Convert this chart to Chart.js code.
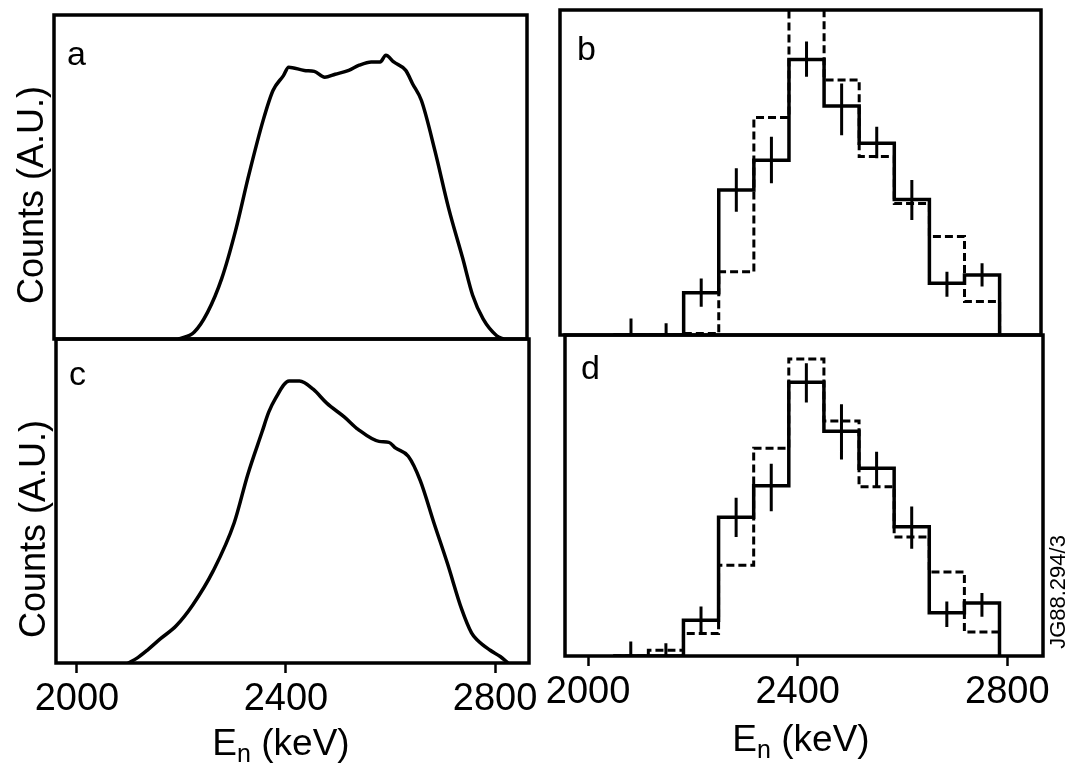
<!DOCTYPE html>
<html><head><meta charset="utf-8">
<script src="https://cdn.jsdelivr.net/npm/chart.js@4.4.1/dist/chart.umd.min.js"></script>
<style>
html,body{margin:0;padding:0;background:#fff;width:1069px;height:766px;overflow:hidden}
canvas{position:absolute;left:0;top:0}
</style></head><body>
<canvas id="pa" width="1069" height="766"></canvas>
<canvas id="pb" width="1069" height="766"></canvas>
<canvas id="pc" width="1069" height="766"></canvas>
<canvas id="pd" width="1069" height="766"></canvas>
<script>
// ---------------- data ----------------
const tickValues = [2000, 2400, 2800];
const yTitle = 'Counts (A.U.)';
const xTitleMain = 'E';
const xTitleSub = 'n';
const xTitleUnit = ' (keV)';
const stampText = 'JG88.294/3';

// panel a : smooth spectrum
const energyA = [2194,2224,2250,2277,2303,2329,2356,2375,2395,2405,2435,2454,2474,2494,2520,2540,2563,2580,2591,2606,2629,2642,2659,2685,2711,2738,2757,2777,2803,2816];
const countsA = [0,2.1,8.3,18.7,33.2,50.8,67.4,76.7,81.3,83.9,82.9,82.6,80.8,81.7,82.9,84.5,85.5,85.5,87.6,85.5,82.9,78.8,73.6,58.0,40.4,24.9,13.5,6.2,1.0,0];

// panel c : smooth spectrum
const energyC = [2098,2115,2135,2160,2190,2222,2261,2301,2327,2354,2367,2380,2406,2426,2452,2478,2512,2538,2578,2597,2610,2634,2657,2683,2709,2736,2755,2766,2790,2810,2825];
const countsC = [0,1.5,4.0,7.5,11.5,18.0,28.5,43.3,58.2,71.2,77.4,81.7,87.0,87.0,84.5,80.2,75.9,72.1,68.4,68.1,66.3,63.8,56.3,43.3,30.7,16.7,9.3,7.1,4.0,2.0,0];

// histogram bins (keV edges)
const binEdges = [2048,2115,2182,2249,2316,2383,2450,2517,2584,2651,2718,2785];

// panel b
const measB = [0,0,13.0,44.6,53.8,84.8,70.5,59.0,41.7,15.9,18.5];
const errLoB = [0,0,8.7,37.9,46.7,79.5,61.5,54.4,35.4,11.8,14.9];
const errHiB = [5.1,3.6,17.4,51.3,61.0,90.3,77.4,64.1,47.7,19.5,22.1];
const simB  = [0,0,0.5,19.5,66.9,110,78.5,54.9,40.5,30.3,10.3];

// panel d
const measD = [0,0,11.1,43.2,53.0,85.3,70.0,58.5,40.3,13.5,16.5];
const errLoD = [0,0,7.0,37.1,45.1,79.0,61.2,52.5,33.4,9.0,12.2];
const errHiD = [4.5,4.0,15.4,49.3,59.9,91.2,78.4,63.6,46.6,17.0,19.6];
const simD  = [0,1.8,7.0,28.3,64.7,92.5,73.2,52.7,37.1,26.2,7.5];

// ---------------- helpers ----------------
const FONT = '"Liberation Sans", Arial, Helvetica, sans-serif';
const AXIS_H = 60;
const W = 1069, H = 766;

function xy(xs, ys){ return xs.map((x,i)=>({x:x, y:ys[i]})); }
function histPoints(edges, vals){
  const pts = [];
  for (let i=0;i<vals.length;i++){
    pts.push({x:edges[i], y:vals[i]});
    pts.push({x:edges[i+1], y:vals[i]});
  }
  pts.push({x:edges[edges.length-1], y:0});
  return pts;
}
function errPoints(edges, lo, hi){
  const pts = [];
  for (let i=0;i<lo.length;i++){
    const c = (edges[i]+edges[i+1])/2;
    pts.push({x:c, y:lo[i]});
    pts.push({x:c, y:hi[i]});
    pts.push({x:c, y:null});
  }
  return pts;
}

const framePlugin = {
  id:'frame',
  afterDatasetsDraw(chart){
    const {left,top,right,bottom} = chart.chartArea;
    const ctx = chart.ctx;
    ctx.save();
    ctx.lineWidth = 3.5; ctx.strokeStyle = '#000';
    ctx.strokeRect(left, top, right-left, bottom-top);
    ctx.restore();
  }
};
const textPlugin = {
  id:'panelText',
  afterDraw(chart, args, o){
    const ctx = chart.ctx;
    ctx.save();
    ctx.fillStyle = '#000';
    ctx.textBaseline = 'alphabetic';
    if (o.letter){
      ctx.font = '34px ' + FONT; ctx.textAlign = 'left';
      ctx.fillText(o.letter.t, o.letter.x, o.letter.y);
    }
    if (o.ytitle){
      ctx.save();
      ctx.translate(o.ytitle.x, o.ytitle.y);
      ctx.rotate(-Math.PI/2);
      ctx.font = '36px ' + FONT; ctx.textAlign = 'center';
      ctx.fillText(yTitle, 0, 0);
      ctx.restore();
    }
    if (o.xtitle){
      const big = '37px ' + FONT, small = '25px ' + FONT;
      ctx.font = big; const wE = ctx.measureText(xTitleMain).width;
      const wU = ctx.measureText(xTitleUnit).width;
      ctx.font = small; const wN = ctx.measureText(xTitleSub).width;
      let x = o.xtitle.cx - (wE+wN+wU)/2;
      ctx.textAlign = 'left';
      ctx.font = big; ctx.fillText(xTitleMain, x, o.xtitle.y); x += wE;
      ctx.font = small; ctx.fillText(xTitleSub, x, o.xtitle.y + 7); x += wN;
      ctx.font = big; ctx.fillText(xTitleUnit, x, o.xtitle.y);
    }
    if (o.stamp){
      ctx.save();
      ctx.translate(o.stamp.x, o.stamp.y);
      ctx.rotate(-Math.PI/2);
      ctx.font = '22px ' + FONT; ctx.textAlign = 'center';
      ctx.fillText(stampText, 0, 0);
      ctx.restore();
    }
    ctx.restore();
  }
};

function makeChart(id, area, xr, showX, datasets, texts){
  const pad = {
    left: area.l, top: area.t, right: W - area.r,
    bottom: H - area.b - (showX ? AXIS_H : 0)
  };
  return new Chart(document.getElementById(id), {
    type:'line',
    data:{datasets:datasets},
    plugins:[framePlugin, textPlugin],
    options:{
      responsive:false, animation:false, devicePixelRatio:1,
      layout:{padding:pad},
      plugins:{legend:{display:false}, tooltip:{enabled:false}, panelText:texts},
      elements:{point:{radius:0}},
      scales:{
        x:{type:'linear', min:xr[0], max:xr[1], display:showX, position:'bottom',
           afterBuildTicks:s=>{ s.ticks = tickValues.map(v=>({value:v})); },
           afterFit:s=>{ s.height = showX ? AXIS_H : 0; },
           grid:{display:true, drawOnChartArea:false, drawTicks:true, tickLength:10, tickColor:'#000', tickWidth:2.5},
           border:{display:false},
           ticks:{color:'#000', font:{family:FONT, size:38}, padding:4, maxRotation:0, autoSkip:false,
                  callback:v=>String(v)}
        },
        y:{type:'linear', min:0, max:100, display:false}
      }
    }
  });
}

function curveSet(pts){
  return {data:pts, borderColor:'#000', borderWidth:3.5, pointRadius:0, fill:false,
          tension:0.3, cubicInterpolationMode:'monotone'};
}
function histSets(meas, lo, hi, sim){
  return [
    {data:histPoints(binEdges, meas), borderColor:'#000', borderWidth:3.5, pointRadius:0, tension:0, fill:false, order:1},
    {data:errPoints(binEdges, lo, hi), borderColor:'#000', borderWidth:3, pointRadius:0, tension:0, spanGaps:false, fill:false, order:2},
    {data:histPoints(binEdges, sim), borderColor:'#000', borderWidth:3, borderDash:[8,4], pointRadius:0, tension:0, fill:false, order:3}
  ];
}

makeChart('pa', {l:54, r:527, t:15, b:339}, [1956, 2861], false,
  [curveSet(xy(energyA, countsA))],
  {letter:{t:'a', x:67, y:65}, ytitle:{x:43, y:195}});
makeChart('pc', {l:56, r:529, t:339, b:663}, [1960, 2865], true,
  [curveSet(xy(energyC, countsC))],
  {letter:{t:'c', x:69, y:385}, ytitle:{x:45, y:529}, xtitle:{cx:281, y:755}});
makeChart('pb', {l:560, r:1041, t:10, b:335}, [1946, 2864], false,
  histSets(measB, errLoB, errHiB, simB),
  {letter:{t:'b', x:577, y:60}});
makeChart('pd', {l:565, r:1043, t:335, b:656}, [1956, 2868], true,
  histSets(measD, errLoD, errHiD, simD),
  {letter:{t:'d', x:581, y:379}, xtitle:{cx:801, y:751}, stamp:{x:1065, y:592}});
</script>
</body></html>
